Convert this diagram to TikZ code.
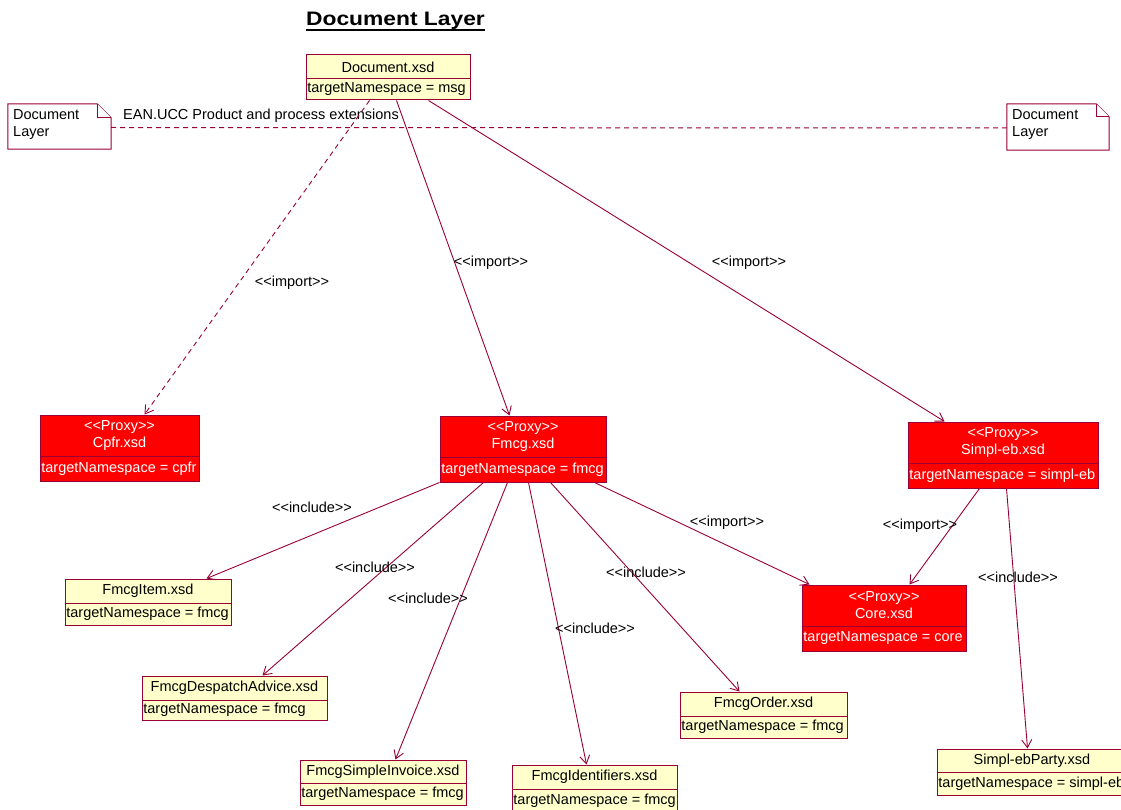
\documentclass[tikz,border=0pt]{standalone}
\usepackage{fontspec}
\setmainfont{Liberation Sans}[Ligatures=TeXOff]
\usetikzlibrary{arrows.meta,fit,calc}

\definecolor{umlline}{HTML}{990033}
\definecolor{xsdfill}{HTML}{FFFFCC}
\definecolor{proxyfill}{HTML}{FF0000}

\newcommand\umlfont{\fontsize{14.5}{17}\selectfont}

\tikzset{
  xsd/.style={draw=umlline, fill=xsdfill, line width=1pt, inner sep=0pt},
  xsd line/.style={draw=umlline, line width=1pt},
  xsd text/.style={text=black, font=\umlfont, inner sep=1.2pt},
  proxy/.style={draw=umlline, fill=proxyfill, line width=1pt, inner sep=0pt},
  proxy line/.style={draw=umlline, line width=1pt},
  proxy text/.style={text=white, font=\umlfont, inner sep=1.2pt},
  notebox/.style={draw=umlline, fill=white, line width=1pt},
  notetext/.style={text=black, font=\umlfont, align=left, anchor=west, inner sep=0pt},
  dep/.style={draw=umlline, line width=0.9pt, -{Straight Barb[length=8pt,width=10pt]}},
  depdashed/.style={dep, dash pattern=on 5pt off 4pt},
  lbl/.style={text=black, font=\umlfont, inner sep=0pt},
  anchorline/.style={draw=umlline, line width=1pt, dash pattern=on 5pt off 4pt},
}

% #1 name, #2 style family (xsd/proxy), #3 x1, #4 y1, #5 x2, #6 y2,
% #7 divider y, #8 header, #9 namespace line
\newcommand\xsdbox[9]{%
  \node[#2, fit={(#3,#4) (#5,#6)}] (#1) {};
  \draw[#2 line] (#3,#7) -- (#5,#7);
  \node[#2 text, align=center] (#1-head) at ($(#3,#4)!0.5!(#5,#7)$) {#8};
  \node[#2 text, anchor=west] (#1-ns) at ($(#3,#7)!0.5!(#3,#6)$) {#9};
}

\begin{document}
\begin{tikzpicture}[x=1pt, y=-1pt]
  \path[fill=white, use as bounding box] (0,0) rectangle (1121,810);

  % title
  \node[inner sep=0pt, anchor=base, font=\fontsize{19.5}{21}\selectfont\bfseries] (title)
    at (395.5,25.5) {\scalebox{1.17}[1]{Document Layer}};
  \draw[line width=2.2pt] ([yshift=-4.5pt]title.base west) -- ([yshift=-4.5pt]title.base east);

  % notes
  \node[inner sep=0pt, fit={(8,104) (111,149)}] (noteL) {};
  \draw[notebox] (noteL.north west) -- ([xshift=-14pt]noteL.north east)
    -- ([yshift=-14pt]noteL.north east) -- (noteL.south east) -- (noteL.south west) -- cycle;
  \draw[notebox] ([xshift=-14pt]noteL.north east) -- ([xshift=-14pt,yshift=-14pt]noteL.north east)
    -- ([yshift=-14pt]noteL.north east);
  \node[notetext] (noteL-text) at (13,125) {Document\\Layer};

  \node[inner sep=0pt, fit={(1007,104) (1109,150)}] (noteR) {};
  \draw[notebox] (noteR.north west) -- ([xshift=-13pt]noteR.north east)
    -- ([yshift=-13pt]noteR.north east) -- (noteR.south east) -- (noteR.south west) -- cycle;
  \draw[notebox] ([xshift=-13pt]noteR.north east) -- ([xshift=-13pt,yshift=-13pt]noteR.north east)
    -- ([yshift=-13pt]noteR.north east);
  \node[notetext] (noteR-text) at (1012,125) {Document\\Layer};

  \draw[anchorline] ([yshift=-1pt]noteL.east) -- ([yshift=-1pt]noteR.west);
  \node[lbl, anchor=west] (pkglabel) at (123,116) {EAN.UCC Product and process extensions};

  % schema files
  \xsdbox{doc}{xsd}{306}{55}{470}{100}{79}{Document.xsd}{targetNamespace = msg}
  \xsdbox{cpfr}{proxy}{40}{415}{199}{481}{456}{<<Proxy>>\\Cpfr.xsd}{targetNamespace = cpfr}
  \xsdbox{fmcg}{proxy}{440}{416}{606}{482}{457}{<<Proxy>>\\Fmcg.xsd}{targetNamespace = fmcg}
  \xsdbox{simpl}{proxy}{908}{422}{1098}{488}{463}{<<Proxy>>\\Simpl-eb.xsd}{targetNamespace = simpl-eb}
  \xsdbox{core}{proxy}{802}{585}{966}{651}{626}{<<Proxy>>\\Core.xsd}{targetNamespace = core}
  \xsdbox{item}{xsd}{65}{579}{231}{625}{603}{FmcgItem.xsd}{targetNamespace = fmcg}
  \xsdbox{desp}{xsd}{142}{676}{327}{720}{700}{FmcgDespatchAdvice.xsd}{targetNamespace = fmcg}
  \xsdbox{inv}{xsd}{300}{760}{466}{805}{783}{FmcgSimpleInvoice.xsd}{targetNamespace = fmcg}
  \xsdbox{ident}{xsd}{512}{765}{677}{812}{789}{FmcgIdentifiers.xsd}{targetNamespace = fmcg}
  \xsdbox{order}{xsd}{680}{692}{847}{738}{716}{FmcgOrder.xsd}{targetNamespace = fmcg}
  \xsdbox{party}{xsd}{937}{749}{1127}{795}{772}{Simpl-ebParty.xsd}{targetNamespace = simpl-eb}

  % dependencies
  \draw[depdashed] ([xshift=64pt]doc.south west) -- ([xshift=105pt]cpfr.north west);
  \draw[dep] ([xshift=91pt]doc.south west) -- ([xshift=70pt]fmcg.north west);
  \draw[dep] ([xshift=123pt]doc.south west) -- ([xshift=37pt]simpl.north west);
  \draw[dep] (fmcg.south west) -- ([xshift=142pt]item.north west);
  \draw[dep] ([xshift=44pt]fmcg.south west) -- ([xshift=121pt]desp.north west);
  \draw[dep] ([xshift=68pt]fmcg.south west) -- ([xshift=96pt]inv.north west);
  \draw[dep] ([xshift=89pt]fmcg.south west) -- ([xshift=75pt]ident.north west);
  \draw[dep] ([xshift=111pt]fmcg.south west) -- ([xshift=60pt]order.north west);
  \draw[dep] ([xshift=155pt]fmcg.south west) -- ([xshift=8pt]core.north west);
  \draw[dep] ([xshift=72pt]simpl.south west) -- ([xshift=108pt]core.north west);
  \draw[dep] ([xshift=99pt]simpl.south west) -- ([xshift=91pt]party.north west);

  % stereotype labels
  \node[lbl] (l-cpfr) at (292,283) {<<import>>};
  \node[lbl] (l-fmcg) at (491,263) {<<import>>};
  \node[lbl] (l-simpl) at (749,263) {<<import>>};
  \node[lbl] (l-item) at (312,507) {<<include>>};
  \node[lbl] (l-desp) at (375,567) {<<include>>};
  \node[lbl] (l-inv) at (428,598) {<<include>>};
  \node[lbl] (l-ident) at (595,628) {<<include>>};
  \node[lbl] (l-order) at (646,572) {<<include>>};
  \node[lbl] (l-core) at (727,523) {<<import>>};
  \node[lbl] (l-simplcore) at (920,526) {<<import>>};
  \node[lbl] (l-party) at (1018,577) {<<include>>};
\end{tikzpicture}
\end{document}
